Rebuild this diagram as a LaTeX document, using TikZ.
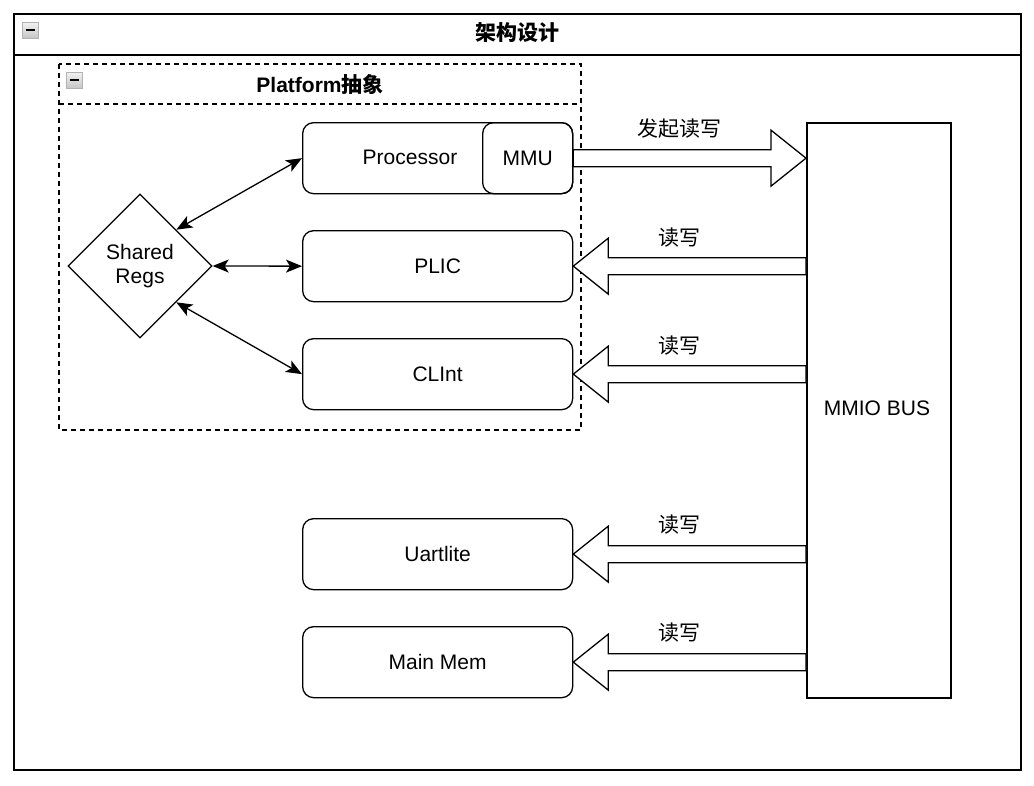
\documentclass[tikz,border=0pt]{standalone}
\usepackage{fontspec}
\setmainfont{Liberation Sans}
\newfontfamily\cjk{Noto Sans CJK SC}
\usepackage{tikz}
\usetikzlibrary{arrows.meta,calc,positioning,shapes.geometric}

\tikzset{
  txt/.style={font=\fontsize{21}{24}\selectfont},
  unit/.style={txt,draw,line width=1.3pt,rounded corners=11pt,minimum width=270pt,minimum height=71pt,inner sep=0pt},
  bidir/.style={{Stealth[length=16pt,width=13pt,inset=4pt]}-{Stealth[length=16pt,width=13pt,inset=4pt]},line width=1.3pt},
  blockarrow/.style={draw,line width=1.3pt,fill=white,line join=miter},
  minusicon/.style={draw=gray!60,top color=gray!10,bottom color=gray!45,line width=0.9pt},
}
\newcommand{\foldicon}[1]{%
  \draw[minusicon] (#1) rectangle ++(16,16);
  \draw[line width=2pt] ($(#1)+(3.5,8)$) -- ++(9,0);
}
% read/write arrow: tip at #1, tail on the bus line at #2
\newcommand{\rwarrow}[2]{%
  \draw[blockarrow] (#1) -- ++(35,-28) -- ++(0,19.5) -- ($(#2)+(0,-8.5)$)
    -- ($(#2)+(0,8.5)$) -- ($(#1)+(35,8.5)$) -- ++(0,19.5) -- cycle;
}

\begin{document}
\begin{tikzpicture}[x=1pt,y=-1pt]
\useasboundingbox[fill=white] (0,0) rectangle (1034,785);

% outer container
\draw[line width=1.5pt] (14,14) rectangle (1021,770);
\draw[line width=1.5pt] (14,55) -- (1021,55);
\foldicon{22,22}
\node[txt,font=\fontsize{21}{24}\selectfont\cjk\bfseries] (title) at (517,33) {架构设计};

% platform container
\draw[line width=1.3pt,dash pattern=on 5pt off 4pt] (59,64) rectangle (581,430);
\draw[line width=1.3pt,dash pattern=on 5pt off 4pt] (59,104) -- (581,104);
\foldicon{66,72}
\node[txt,font=\fontsize{21}{24}\selectfont\bfseries] (ptitle) at (320,84) {Platform{\cjk 抽象}};

% units
\node[unit,anchor=north west] (proc) at (302,122) {};
\node[txt] (proclbl) at (410,157) {Processor};
\node[unit,minimum width=90pt,anchor=north east] (mmu) at (proc.north east) {MMU};
\node[unit,anchor=north west] (plic) at (302,230) {PLIC};
\node[unit,anchor=north west] (clint) at (302,338) {CLInt};
\node[unit,anchor=north west] (uart) at (302,518) {Uartlite};
\node[unit,anchor=north west] (mem) at (302,626) {Main Mem};

\node[diamond,draw,line width=1.3pt,minimum width=144pt,minimum height=144pt,inner sep=0pt,
  txt,align=center] (regs) at (140,266) {Shared\\Regs};

% bus
\node[draw,line width=1.5pt,minimum width=144pt,minimum height=575pt,anchor=north west,txt]
  (bus) at (806,122) {};
\node[txt] (buslbl) at (877,408) {MMIO BUS};

% register links
\draw[bidir] (regs.north east) -- (proc.west);
\draw[bidir] (regs.east) -- (plic.west);
\draw[bidir] (regs.south east) -- (clint.west);

% request from processor
\draw[blockarrow] ($(mmu.east)+(0,-8.5)$) -- ($(bus.west |- mmu.east)+(-35,-8.5)$) -- ++(0,-19.5)
  -- (bus.west |- mmu.east) -- ($(bus.west |- mmu.east)+(-35,28)$) -- ++(0,-19.5)
  -- ($(mmu.east)+(0,8.5)$) -- cycle;
\node[txt,font=\fontsize{21}{24}\selectfont\cjk] (reqlbl) at (679,129) {发起读写};

% read/write from bus
\rwarrow{plic.east}{bus.west |- plic.east}
\rwarrow{clint.east}{bus.west |- clint.east}
\rwarrow{uart.east}{bus.west |- uart.east}
\rwarrow{mem.east}{bus.west |- mem.east}
\foreach \y [count=\i] in {238,346,525,633}
  \node[txt,font=\fontsize{21}{24}\selectfont\cjk] (rwlbl\i) at (679,\y) {读写};
\end{tikzpicture}
\end{document}
